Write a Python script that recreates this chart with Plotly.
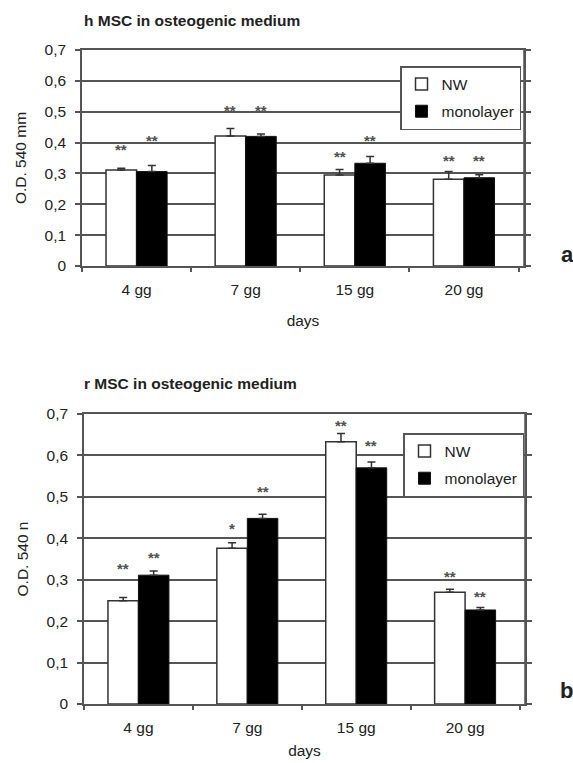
import plotly.graph_objects as go

categories = ["4 gg", "7 gg", "15 gg", "20 gg"]

# panel a: h MSC
a_nw = [0.311, 0.421, 0.295, 0.281]
a_nw_err = [0.006, 0.025, 0.018, 0.025]
a_mono = [0.306, 0.420, 0.333, 0.286]
a_mono_err = [0.020, 0.008, 0.022, 0.010]
a_nw_star = ["**", "**", "**", "**"]
a_nw_star_y = [0.386, 0.515, 0.363, 0.350]
a_mono_star = ["**", "**", "**", "**"]
a_mono_star_y = [0.415, 0.515, 0.415, 0.350]

# panel b: r MSC
b_nw = [0.249, 0.376, 0.633, 0.270]
b_nw_err = [0.008, 0.013, 0.020, 0.007]
b_mono = [0.311, 0.448, 0.570, 0.227]
b_mono_err = [0.010, 0.010, 0.014, 0.006]
b_nw_star = ["**", "*", "**", "**"]
b_nw_star_y = [0.335, 0.430, 0.680, 0.314]
b_mono_star = ["**", "**", "**", "**"]
b_mono_star_y = [0.361, 0.519, 0.632, 0.267]

y_ticks = [0, 0.1, 0.2, 0.3, 0.4, 0.5, 0.6, 0.7]
y_ticktext = ["0", "0,1", "0,2", "0,3", "0,4", "0,5", "0,6", "0,7"]

FONT = "Liberation Sans, Arial, sans-serif"
W, H = 573, 763
BARGAP = 0.44
GRID = "#555555"

fig = go.Figure()

def add_pair(nw, nw_err, mono, mono_err, xa, ya, legend):
    fig.add_trace(go.Bar(
        x=categories, y=nw, name="NW", xaxis=xa, yaxis=ya, legend=legend,
        legendgroup="nw" + legend,
        marker=dict(color="white", line=dict(color="#333", width=1.5)),
        error_y=dict(type="data", symmetric=False, array=nw_err,
                     arrayminus=[0] * len(nw_err), color="#333",
                     thickness=1.5, width=4),
    ))
    fig.add_trace(go.Bar(
        x=categories, y=mono, name="monolayer", xaxis=xa, yaxis=ya, legend=legend,
        legendgroup="mono" + legend,
        marker=dict(color="black", line=dict(color="#111", width=1)),
        error_y=dict(type="data", symmetric=False, array=mono_err,
                     arrayminus=[0] * len(mono_err), color="#333",
                     thickness=1.5, width=4),
    ))

add_pair(a_nw, a_nw_err, a_mono, a_mono_err, "x", "y", "legend")
add_pair(b_nw, b_nw_err, b_mono, b_mono_err, "x2", "y2", "legend2")

off = (1 - BARGAP) / 4
annotations = []
def stars(labels, ys, sign, xref, yref):
    for i, (t, yv) in enumerate(zip(labels, ys)):
        annotations.append(dict(
            x=i + sign * off, y=yv, xref=xref, yref=yref, text="<b>" + t + "</b>",
            showarrow=False, font=dict(family=FONT, size=15, color="#505050"),
            xanchor="center", yanchor="middle", yshift=-3))

stars(a_nw_star, a_nw_star_y, -1, "x", "y")
stars(a_mono_star, a_mono_star_y, 1, "x", "y")
stars(b_nw_star, b_nw_star_y, -1, "x2", "y2")
stars(b_mono_star, b_mono_star_y, 1, "x2", "y2")

def px(v):
    return v / W

def py(v):
    return 1 - v / H

# titles and panel labels
annotations += [
    dict(x=px(82), y=py(20), xref="paper", yref="paper", text="<b>h MSC in osteogenic medium</b>",
         showarrow=False, xanchor="left", yanchor="middle",
         font=dict(family=FONT, size=15.5, color="#222")),
    dict(x=px(82), y=py(384), xref="paper", yref="paper", text="<b>r MSC in osteogenic medium</b>",
         showarrow=False, xanchor="left", yanchor="middle",
         font=dict(family=FONT, size=15.5, color="#222")),
    dict(x=px(567), y=py(255), xref="paper", yref="paper", text="<b>a</b>",
         showarrow=False, xanchor="center", yanchor="middle",
         font=dict(family=FONT, size=22, color="#222")),
    dict(x=px(566), y=py(690), xref="paper", yref="paper", text="<b>b</b>",
         showarrow=False, xanchor="center", yanchor="middle",
         font=dict(family=FONT, size=22, color="#222")),
]

# right-hand frame lines of both plot areas
shapes = [
    dict(type="line", xref="x domain", yref="y", x0=1, x1=1, y0=0, y1=0.7,
         line=dict(color=GRID, width=1.5)),
    dict(type="line", xref="x2 domain", yref="y2", x0=1, x1=1, y0=0, y1=0.7,
         line=dict(color=GRID, width=1.5)),
]

xcommon = dict(
    type="category", range=[-0.5, 3.55], showline=True, linecolor=GRID, linewidth=1.5,
    mirror=True, ticks="outside", tickson="boundaries", ticklen=4, tickcolor=GRID,
    tickwidth=1.5, showgrid=False, zeroline=False, automargin=False,
    tickfont=dict(family=FONT, size=15.5, color="#222"), ticklabelstandoff=9,
)
ycommon = dict(
    range=[0, 0.7], tickvals=y_ticks, ticktext=y_ticktext, showline=True,
    linecolor=GRID, linewidth=1.5, mirror="allticks", ticks="outside", ticklen=5,
    tickcolor=GRID, tickwidth=1.5, showgrid=True, gridcolor=GRID, gridwidth=1.5,
    zeroline=False, automargin=False, tickfont=dict(family=FONT, size=15.5, color="#222"),
    ticklabelstandoff=6,
)

legcommon = dict(
    bgcolor="white", bordercolor="#555", borderwidth=1.5,
    font=dict(family=FONT, size=15.5, color="#222"),
    xanchor="left", yanchor="top", traceorder="grouped", tracegroupgap=4,
    itemwidth=30,
)

title_font = dict(family=FONT, size=15.5, color="#222")

fig.update_layout(
    width=W, height=H, margin=dict(l=0, r=0, t=0, b=0, autoexpand=False),
    paper_bgcolor="white", plot_bgcolor="white",
    barmode="group", bargap=BARGAP, bargroupgap=0,
    showlegend=True,
    xaxis=dict(xcommon, domain=[px(82), px(524)], anchor="y",
               title=dict(text="days", font=title_font, standoff=18)),
    yaxis=dict(ycommon, domain=[py(266), py(50)], anchor="x",
               title=dict(text="O.D. 540 mm", font=title_font, standoff=14)),
    xaxis2=dict(xcommon, domain=[px(84), px(525)], anchor="y2",
                title=dict(text="days", font=title_font, standoff=10)),
    yaxis2=dict(ycommon, domain=[py(704), py(414)], anchor="x2",
                title=dict(text="O.D. 540 n", font=title_font, standoff=14)),
    legend=dict(legcommon, x=px(400), y=py(66)),
    legend2=dict(legcommon, x=px(403), y=py(433)),
    annotations=annotations,
    shapes=shapes,
)

fig.write_html("out.html")
